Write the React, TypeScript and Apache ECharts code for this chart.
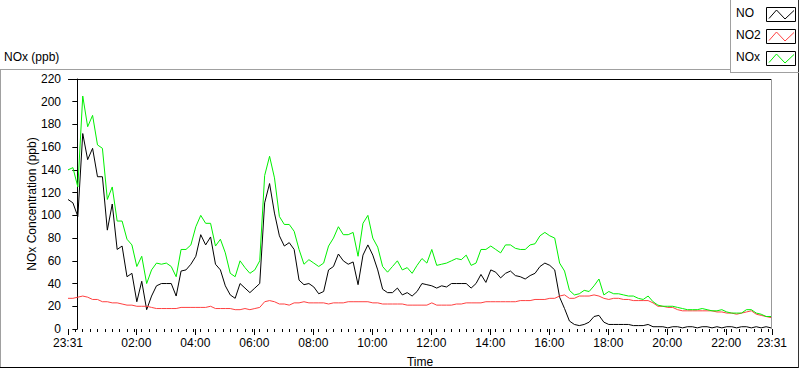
import React, { useEffect, useRef } from "react";
import * as echarts from "echarts";

// Time axis (minutes relative to midnight of the first day)
const START_MIN = -19;
const END_MIN = 1413;
const STEP_MIN = 10;

const xLabelMinutes = [-19, 120, 240, 360, 480, 600, 720, 840, 960, 1080, 1200, 1320, 1413];
const xLabelTexts = ["23:31", "02:00", "04:00", "06:00", "08:00", "10:00", "12:00", "14:00", "16:00", "18:00", "20:00", "22:00", "23:31"];

const seriesNames = ["NO", "NO2", "NOx"];
const seriesColors = ["#000000", "#ff4040", "#00f000"];

const noValues = [
  114, 111, 99, 172, 149, 159, 134, 134, 87, 110,
  70, 73, 46, 49, 24, 42, 17, 29, 38, 40,
  40, 40, 29, 51, 52, 57, 64, 83, 74, 81,
  57, 52, 38, 30, 27, 40, 36, 32, 36, 40,
  111, 128, 102, 82, 73, 76, 70, 43, 39, 40,
  37, 31, 33, 52, 55, 66, 60, 57, 59, 39,
  65, 74, 65, 52, 35, 32, 32, 36, 30, 32,
  29, 33, 40, 39, 38, 36, 38, 37, 40, 40,
  40, 40, 36, 40, 48, 41, 52, 50, 45, 49,
  51, 47, 46, 44, 47, 49, 55, 58, 56, 52,
  28, 18, 7, 4, 3, 4, 6, 11, 12, 6,
  4, 4, 4, 4, 4, 3, 3, 3, 4, 2,
  2, 2, 1, 2, 2, 1, 2, 2, 1, 2,
  2, 1, 2, 1, 2, 2, 1, 2, 2, 1,
  2, 1, 2, 1,
];

const no2Values = [
  27, 27, 28, 29, 28, 26, 26, 24, 24, 23,
  23, 22, 21, 21, 20, 20, 20, 19, 18, 18,
  18, 18, 18, 19, 19, 19, 19, 19, 19, 20,
  18, 18, 18, 18, 17, 17, 18, 17, 18, 19,
  24, 25, 24, 22, 22, 21, 23, 23, 24, 23,
  23, 23, 23, 22, 23, 23, 23, 24, 24, 24,
  24, 24, 23, 23, 22, 22, 22, 22, 22, 21,
  21, 21, 21, 21, 23, 21, 21, 21, 21, 22,
  22, 23, 23, 23, 23, 24, 24, 24, 24, 24,
  24, 24, 25, 25, 25, 26, 26, 26, 27, 27,
  29, 30, 27, 27, 29, 29, 29, 30, 29, 27,
  26, 27, 27, 26, 26, 25, 25, 25, 25, 23,
  20, 20, 19, 19, 17, 16, 16, 16, 16, 16,
  16, 16, 15, 15, 14, 14, 13, 14, 15, 16,
  13, 12, 11, 10,
];

const noxValues = [
  140, 142, 125, 205, 178, 188, 162, 159, 114, 125,
  95, 95, 79, 74, 55, 64, 40, 52, 58, 57,
  58, 55, 46, 70, 70, 74, 90, 100, 93, 93,
  73, 79, 67, 49, 46, 60, 54, 49, 52, 60,
  135, 152, 133, 99, 92, 92, 86, 70, 57, 61,
  58, 55, 58, 73, 80, 90, 83, 83, 85, 64,
  93, 100, 80, 72, 55, 50, 55, 60, 52, 54,
  49, 56, 62, 58, 70, 56, 57, 58, 60, 62,
  61, 65, 56, 58, 70, 70, 73, 70, 67, 74,
  74, 71, 70, 70, 74, 75, 82, 85, 82, 80,
  58, 51, 34, 30, 31, 34, 33, 38, 44, 30,
  33, 31, 31, 30, 29, 29, 27, 26, 29, 24,
  21, 20, 20, 20, 19, 18, 17, 17, 17, 18,
  17, 16, 16, 17, 15, 14, 14, 14, 17, 17,
  14, 13, 11, 11,
];

const FONT = "'Liberation Sans', Arial, sans-serif";

function toPairs(values: number[]) {
  return values.map((v, i) => [START_MIN + i * STEP_MIN, v]);
}

const minorTickMinutes: number[] = [];
for (let m = START_MIN; m <= END_MIN; m += 15) minorTickMinutes.push(m);

function legendItem(i: number, top: number) {
  const y0 = top;
  return [
    {
      type: "text",
      left: 736,
      top: y0 - 7,
      style: { text: seriesNames[i], fontSize: 12, fontFamily: FONT, fill: "#000" },
    },
    {
      type: "rect",
      shape: { x: 766.5, y: y0 - 6.5, width: 29, height: 14 },
      style: { fill: "#fff", stroke: "#000", lineWidth: 1 },
    },
    {
      type: "polyline",
      shape: {
        points: [
          [769, y0 + 4.5],
          [776.5, y0 - 4],
          [785, y0 + 5],
          [794, y0 - 3.5],
        ],
      },
      style: { fill: "none", stroke: seriesColors[i], lineWidth: 1 },
    },
  ];
}

export default function App() {
  const ref = useRef<HTMLDivElement>(null);
  useEffect(() => {
    if (!ref.current) return;
    const chart = echarts.init(ref.current, undefined, { renderer: "svg" });
    const option: any = {
      animation: false,
      backgroundColor: "#ffffff",
      textStyle: { fontFamily: FONT },
      title: {
        text: "NOx (ppb)",
        left: 4,
        top: 51,
        padding: 0,
        textStyle: { fontSize: 12, fontWeight: "normal", color: "#000", fontFamily: FONT },
      },
      grid: { left: 68, right: 28, top: 79, bottom: 40, containLabel: false, outerBoundsMode: "none" },
      xAxis: [
        {
          type: "value",
          min: START_MIN,
          max: END_MIN,
          position: "bottom",
          name: "Time",
          nameLocation: "middle",
          nameGap: 27,
          nameMoveOverlap: false,
          nameTextStyle: { fontSize: 12, color: "#000", fontFamily: FONT },
          axisLine: { show: false },
          splitLine: { show: false },
          axisTick: {
            show: true,
            length: 6,
            customValues: xLabelMinutes,
            lineStyle: { color: "#000" },
          },
          axisLabel: {
            customValues: xLabelMinutes,
            margin: 8,
            fontSize: 12,
            color: "#000",
            fontFamily: FONT,
            formatter: (v: number) => {
              let best = 0;
              for (let i = 0; i < xLabelMinutes.length; i++) {
                if (Math.abs(xLabelMinutes[i] - v) < Math.abs(xLabelMinutes[best] - v)) best = i;
              }
              return xLabelTexts[best];
            },
          },
        },
        {
          type: "value",
          min: START_MIN,
          max: END_MIN,
          position: "bottom",
          offset: 0,
          axisLine: { show: false },
          splitLine: { show: false },
          axisLabel: { show: false },
          axisTick: {
            show: true,
            length: 3,
            customValues: minorTickMinutes,
            lineStyle: { color: "#000" },
          },
        },
      ],
      yAxis: {
        type: "value",
        min: 0,
        max: 220,
        interval: 20,
        name: "NOx Concentration (ppb)",
        nameLocation: "middle",
        nameGap: 30,
        nameMoveOverlap: false,
        nameTextStyle: { fontSize: 12, color: "#000", fontFamily: FONT },
        axisLine: { show: true, lineStyle: { color: "#000", width: 1 } },
        axisTick: { show: true, length: 5, lineStyle: { color: "#000" } },
        axisLabel: { margin: 7, fontSize: 12, color: "#000", fontFamily: FONT },
        splitLine: { show: false },
      },
      series: [
        { name: "NO", data: toPairs(noValues), color: seriesColors[0] },
        { name: "NO2", data: toPairs(no2Values), color: seriesColors[1] },
        { name: "NOx", data: toPairs(noxValues), color: seriesColors[2] },
      ].map((s) => ({
        ...s,
        type: "line",
        xAxisIndex: 0,
        showSymbol: false,
        symbol: "none",
        lineStyle: { width: 1, color: s.color },
      })),
      graphic: [
        // plot frame
        { type: "line", shape: { x1: 68, y1: 79.5, x2: 772, y2: 79.5 }, style: { stroke: "#000", lineWidth: 1 } },
        { type: "line", shape: { x1: 771.5, y1: 79, x2: 771.5, y2: 329 }, style: { stroke: "#999", lineWidth: 1 } },
        // outer panel
        { type: "line", shape: { x1: 0, y1: 69.5, x2: 730, y2: 69.5 }, style: { stroke: "#a0a0a0", lineWidth: 1 } },
        { type: "line", shape: { x1: 0.5, y1: 69, x2: 0.5, y2: 368 }, style: { stroke: "#a0a0a0", lineWidth: 1 } },
        { type: "line", shape: { x1: 0, y1: 367.5, x2: 799, y2: 367.5 }, style: { stroke: "#000", lineWidth: 1 } },
        { type: "line", shape: { x1: 798.5, y1: 0, x2: 798.5, y2: 368 }, style: { stroke: "#333", lineWidth: 1 } },
        // legend box
        { type: "line", shape: { x1: 730.5, y1: 0, x2: 730.5, y2: 72 }, style: { stroke: "#a0a0a0", lineWidth: 1 } },
        { type: "line", shape: { x1: 730, y1: 72.5, x2: 799, y2: 72.5 }, style: { stroke: "#a0a0a0", lineWidth: 1 } },
        ...legendItem(0, 14),
        ...legendItem(1, 36),
        ...legendItem(2, 58),
      ],
    };
    chart.setOption(option);
    return () => chart.dispose();
  }, []);
  return (
    <div
      ref={ref}
      style={{ position: "absolute", left: 0, top: 0, width: 800, height: 369 }}
    />
  );
}
